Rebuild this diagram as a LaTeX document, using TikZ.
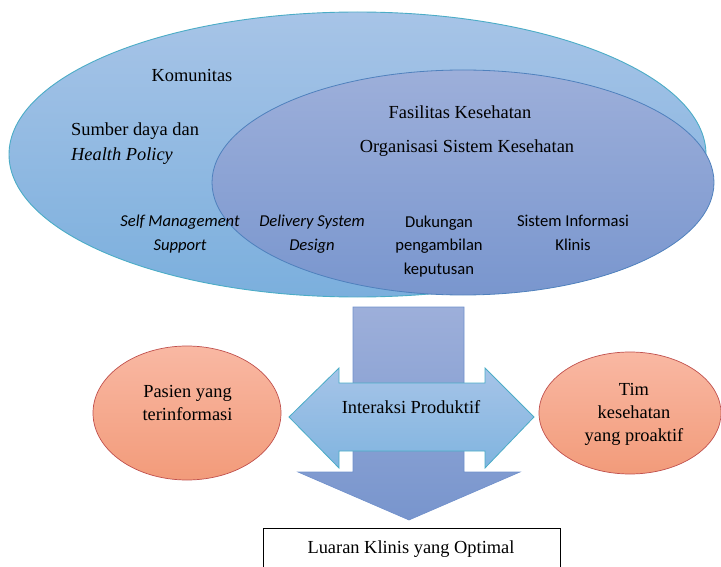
\documentclass[tikz,border=0pt]{standalone}
\usepackage{fontspec}
\setmainfont{Liberation Serif}
\newfontfamily\calibri{Carlito}
\usetikzlibrary{shapes.geometric}

\definecolor{outerTop}{HTML}{A7C4E7}
\definecolor{outerBot}{HTML}{7BAFDD}
\definecolor{outerLine}{HTML}{4BACC6}
\definecolor{innerTop}{HTML}{9DAFDA}
\definecolor{innerBot}{HTML}{7996CE}
\definecolor{innerLine}{HTML}{4F81BD}
\definecolor{downTop}{HTML}{9DAFDA}
\definecolor{downBot}{HTML}{7895CD}
\definecolor{downLine}{HTML}{6F90CB}
\definecolor{dblTop}{HTML}{A6C4E8}
\definecolor{dblBot}{HTML}{80B4DF}
\definecolor{redTop}{HTML}{F9B8A3}
\definecolor{redBot}{HTML}{F29B7A}
\definecolor{redLine}{HTML}{C0504D}

\begin{document}
\begin{tikzpicture}[x=1pt,y=-1pt,
  serif/.style={anchor=base,inner sep=0pt,font=\fontsize{18.4}{23}\selectfont},
  sans/.style={anchor=base,inner sep=0pt,font=\calibri\fontsize{16.6}{23}\selectfont},
  sansit/.style={anchor=base,inner sep=0pt,font=\calibri\itshape\fontsize{16.6}{23}\selectfont},
  oval/.style={ellipse,inner sep=0pt}]
\useasboundingbox (0,0) rectangle (721,567);
\clip (0,0) rectangle (721,567);

% community and health system ellipses
\node[oval,minimum width=697,minimum height=285,top color=outerTop,bottom color=outerBot,
      draw=outerLine,line width=0.9pt] (komunitas) at (357.5,154.5) {};
\node[oval,minimum width=502,minimum height=225,top color=innerTop,bottom color=innerBot,
      draw=innerLine,line width=0.8pt] (sistem) at (463,182.5) {};

\node[serif] (t-kom) at (192,82) {Komunitas};
\node[serif,anchor=base west] (t-sdd) at (71,136) {Sumber daya dan};
\node[serif,anchor=base west,font=\itshape\fontsize{18.4}{23}\selectfont] (t-hp) at (71,161) {Health Policy};
\node[serif] (t-fk) at (460,119) {Fasilitas Kesehatan};
\node[serif] (t-osk) at (467,153) {Organisasi Sistem Kesehatan};

\node[sansit] (sms1) at (180,227) {Self Management};
\node[sansit] (sms2) at (180,251) {Support};
\node[sansit] (dsd1) at (312,227) {Delivery System};
\node[sansit] (dsd2) at (312,251) {Design};
\node[sans] (dpk1) at (439,228) {Dukungan};
\node[sans] (dpk2) at (439,251) {pengambilan};
\node[sans] (dpk3) at (439,274) {keputusan};
\node[sans] (sik1) at (573,227) {Sistem Informasi};
\node[sans] (sik2) at (573,251) {Klinis};

% downward block arrow
\draw[top color=downTop,bottom color=downBot,draw=downLine,line width=0.6pt]
  (353,307) -- (464,307) -- (464,472) -- (520,472) -- (409,520)
  -- (298,472) -- (353,472) -- cycle;

% two-headed block arrow
\draw[top color=dblTop,bottom color=dblBot,draw=outerLine,line width=0.8pt]
  (289,417) -- (339,368) -- (339,383) -- (485,383) -- (485,368) -- (534,417)
  -- (485,468) -- (485,451) -- (339,451) -- (339,468) -- cycle;
\node[serif] (t-ip) at (411,413) {Interaksi Produktif};

% patient and team ellipses
\node[oval,minimum width=188,minimum height=134,top color=redTop,bottom color=redBot,
      draw=redLine,line width=0.7pt] (pasien) at (187,413) {};
\node[serif] (p1) at (187.5,397) {Pasien yang};
\node[serif] (p2) at (187.5,420) {terinformasi};

\node[oval,minimum width=182,minimum height=122,top color=redTop,bottom color=redBot,
      draw=redLine,line width=0.7pt] (tim) at (630,413) {};
\node[serif] (m1) at (634,395) {Tim};
\node[serif] (m2) at (634,418) {kesehatan};
\node[serif] (m3) at (634,441) {yang proaktif};

% outcome box
\node[draw=black,fill=white,line width=0.9pt,minimum width=297,minimum height=60,
      inner sep=0pt] (luaran) at (411.5,558) {};
\node[serif] (t-lua) at (411,553) {Luaran Klinis yang Optimal};
\end{tikzpicture}
\end{document}
